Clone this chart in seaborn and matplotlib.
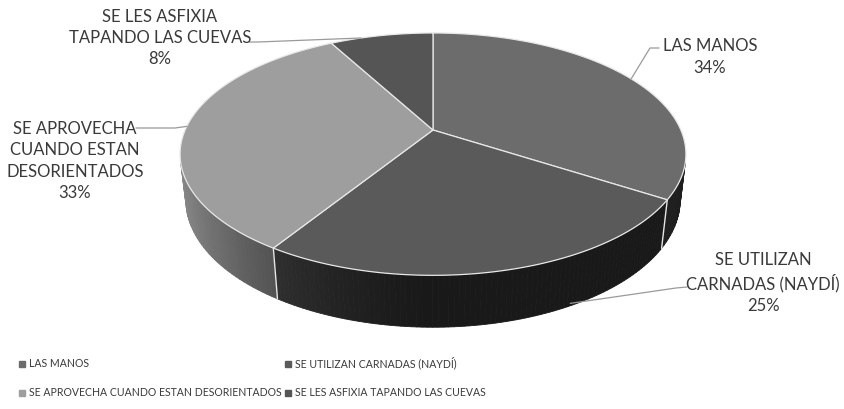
import numpy as np
import matplotlib
matplotlib.use("Agg")
import matplotlib.pyplot as plt
import seaborn as sns
from matplotlib.patches import Polygon
from matplotlib.lines import Line2D

# ---- data -------------------------------------------------------------
categories = [
    "LAS MANOS",
    "SE UTILIZAN CARNADAS (NAYDÍ)",
    "SE APROVECHA CUANDO ESTAN DESORIENTADOS",
    "SE LES ASFIXIA TAPANDO LAS CUEVAS",
]
shares = [34, 25, 33, 8]
slice_labels = [
    "LAS MANOS",
    "SE UTILIZAN\nCARNADAS (NAYDÍ)",
    "SE APROVECHA\nCUANDO ESTAN\nDESORIENTADOS",
    "SE LES ASFIXIA\nTAPANDO LAS CUEVAS",
]
top_colors = ["#6c6c6c", "#5a5a5a", "#9e9e9e", "#555555"]

# ---- style ------------------------------------------------------------
sns.set_theme(style="white")
plt.rcParams["font.family"] = ["Lato", "DejaVu Sans"]

W, H = 844, 409
fig = plt.figure(figsize=(W / 100, H / 100), dpi=100)
ax = fig.add_axes([0, 0, 1, 1])
ax.set_xlim(0, W)
ax.set_ylim(H, 0)
ax.axis("off")

# ---- perspective projection of a flat cylinder ------------------------
phi = np.radians(28)
s_phi, c_phi = np.sin(phi), np.cos(phi)
D, F, thick = 4.43, 1098.0, 0.21
cx, cy = 433.0, 130.0


def project(x, y, z):
    depth = D + y * c_phi - z * s_phi
    sx = F * x / depth
    sy = F * (y * s_phi + z * c_phi) / depth
    return cx + sx, cy - sy


def rim(theta, z=0.0):
    # theta measured clockwise from the far side of the disc
    return project(np.sin(theta), np.cos(theta), z)


def rgb(hexcol):
    return np.array(matplotlib.colors.to_rgb(hexcol))


fractions = np.array(shares) / np.sum(shares)
bounds = np.concatenate([[0], np.cumsum(fractions)]) * 2 * np.pi

# side faces (only the ones facing the viewer), far to near
quads = []
for i, col in enumerate(top_colors):
    t = np.linspace(bounds[i], bounds[i + 1], 90)
    for a, b in zip(t[:-1], t[1:]):
        m = 0.5 * (a + b)
        if -D * c_phi * np.cos(m) <= 1.0:
            continue
        shade = 0.28 + 0.62 * max(0.0, -np.sin(m)) ** 1.5
        c = np.clip(rgb(col) * shade, 0, 1)
        pts = [rim(a, 0), rim(b, 0), rim(b, -thick), rim(a, -thick)]
        quads.append((np.cos(m), pts, c))
for _, pts, c in sorted(quads, key=lambda q: -q[0]):
    ax.add_patch(Polygon(pts, closed=True, facecolor=c, edgecolor=c, lw=0.6))

# vertical seams where slices meet on the visible side
for b in bounds[:-1]:
    if -D * c_phi * np.cos(b) > 1.0:
        x0, y0 = rim(b, 0)
        x1, y1 = rim(b, -thick)
        ax.plot([x0, x1], [y0, y1], color="#e6e6e6", lw=1.0)

# top faces
for i, col in enumerate(top_colors):
    t = np.linspace(bounds[i], bounds[i + 1], 120)
    xs, ys = rim(t, 0)
    pts = [(cx, cy)] + list(zip(xs, ys))
    ax.add_patch(Polygon(pts, closed=True, facecolor=col,
                         edgecolor="#e8e8e8", lw=0.9, joinstyle="round"))

# ---- data labels with leader lines ------------------------------------
text_kw = dict(fontsize=12, color="#3a3a3a", ha="center", va="center",
               linespacing=1.4)
leader_kw = dict(color="#9a9a9a", lw=0.9)

label_pos = [(710, 57), (763, 283), (75, 161), (160, 38)]
leaders = [
    [(659, 48), (650, 48)],
    [(687, 287), (676, 288)],
    [(136, 128), (175, 128)],
    [(249, 42), (258, 42)],
]
anchor = [
    rim(bounds[0] + 0.5 * (bounds[1] - bounds[0]), 0),
    rim(bounds[1] + 0.33 * (bounds[2] - bounds[1]), -thick * 0.95),
    rim(bounds[2] + 0.5 * (bounds[3] - bounds[2]), 0),
    rim(bounds[3] + 0.3 * (bounds[4] - bounds[3]), 0),
]
for i in range(len(categories)):
    txt = f"{slice_labels[i]}\n{shares[i]}%"
    ax.text(label_pos[i][0], label_pos[i][1], txt, **text_kw)
    (x0, y0), (x1, y1) = leaders[i]
    xa, ya = anchor[i]
    ax.plot([x0, x1, xa], [y0, y1, ya], **leader_kw)

# ---- legend -----------------------------------------------------------
handles = [Line2D([], [], marker="s", linestyle="none", markersize=4.0,
                  markerfacecolor=c, markeredgecolor=c) for c in top_colors]
order = [0, 2, 1, 3]
leg = ax.legend([handles[k] for k in order], [categories[k] for k in order],
                ncol=2, loc="center left", bbox_to_anchor=(0.022, 1 - 377.5 / H),
                bbox_transform=fig.transFigure, frameon=False,
                fontsize=7.6, handlelength=0.6, handletextpad=0.4,
                columnspacing=0.3, labelspacing=1.7, borderaxespad=0,
                borderpad=0)
for t in leg.get_texts():
    t.set_color("#3a3a3a")

fig.savefig("out.png", dpi=100)
